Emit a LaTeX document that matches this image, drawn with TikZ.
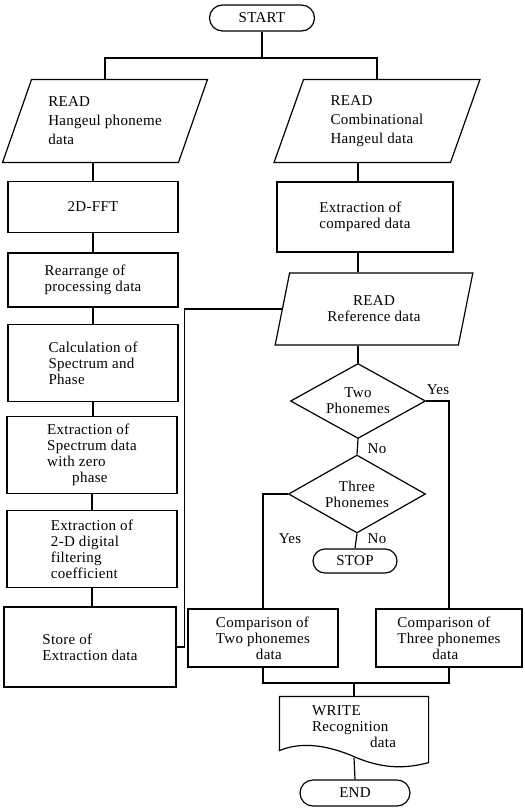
\documentclass[tikz,border=0pt]{standalone}
\usepackage{fontspec}
\setmainfont[LetterSpace=2]{Liberation Serif}
\usetikzlibrary{shapes.geometric}
\usetikzlibrary{shapes.misc}
\begin{document}
\begin{tikzpicture}[x=1pt,y=-1pt,line width=1.2pt,
  font=\fontsize{15}{16}\selectfont,
  proc/.style={draw,rectangle,align=left,inner sep=0pt},
  io/.style={draw,trapezium,trapezium stretches=true,align=left,inner sep=0pt},
  term/.style={draw,rounded rectangle,inner sep=0pt},
  decide/.style={draw,diamond,aspect=1.8,align=center,inner sep=0pt},
  lbl/.style={inner sep=1pt}]
\useasboundingbox (0,0) rectangle (525,809);
\node[term,minimum width=105,minimum height=26] (start) at (262,18) {START};
% left branch
\node[io,trapezium left angle=65,trapezium right angle=115,minimum width=205,minimum height=83]
  (rdhan) at (105,121) {READ\\[3pt]Hangeul phoneme\\[3pt]data};
\node[proc,align=center,minimum width=170,minimum height=51] (fft) at (93,207) {2D-FFT};
\node[proc,minimum width=170,minimum height=54] (rearr) at (93,280) {Rearrange of\\processing data};
\node[proc,minimum width=170,minimum height=77] (calc) at (93,363) {Calculation of\\Spectrum and\\Phase};
\node[proc,minimum width=170,minimum height=77] (extr) at (92,455) {Extraction of\\Spectrum data\\with zero\\\hspace*{25pt}phase};
\node[proc,minimum width=170,minimum height=77] (filt) at (92,549) {Extraction of\\2-D digital\\filtering\\coefficient};
\node[proc,minimum width=172,minimum height=80] (store) at (90,647) {Store of\\Extraction data};
% right branch
\node[io,trapezium left angle=70,trapezium right angle=110,minimum width=206,minimum height=83]
  (rdcomb) at (377,121) {READ\\[3pt]Combinational\\[3pt]Hangeul data};
\node[proc,minimum width=176,minimum height=70] (cmp) at (365,217) {Extraction of\\compared data};
\node[io,align=center,trapezium left angle=73,trapezium right angle=107,minimum width=198,minimum height=72]
  (ref) at (374,309) {READ\\Reference data};
\node[decide,minimum width=135,minimum height=75] (two) at (358,401) {Two\\Phonemes};
\node[decide,minimum width=137,minimum height=78] (three) at (357,494) {Three\\Phonemes};
\node[term,minimum width=84,minimum height=24] (stop) at (355,561) {STOP};
\node[proc,minimum width=150,minimum height=58] (cmp2) at (263,638) {Comparison of\\Two phonemes\\\hspace*{40pt}data};
\node[proc,minimum width=146,minimum height=58] (cmp3) at (449,638) {Comparison of\\Three phonemes\\\hspace*{35pt}data};
\node[align=left,inner sep=0pt,minimum width=148,minimum height=60] (write) at (354,727)
  {WRITE\\Recognition\\\hspace*{58pt}data};
\draw (write.north west) -- (write.north east) -- ([yshift=-5pt]write.south east)
  .. controls (408,768) and (385,770) .. (355,757)
  .. controls (325,744) and (300,742) .. ([yshift=7pt]write.south west) -- cycle;
\node[term,minimum width=110,minimum height=26] (end) at (355,793) {END};
% labels
\node[lbl] (yes1) at (438,390) {Yes};
\node[lbl] (no1) at (377,449) {No};
\node[lbl] (yes2) at (290,539) {Yes};
\node[lbl] (no2) at (377,539) {No};
% connectors
\coordinate (split) at (262,58);
\draw (start.south) -- (split);
\draw (rdhan.north) |- (split) -| (rdcomb.north);
\draw (rdhan.south -| fft) -- (fft.north);
\foreach \a/\b in {fft/rearr,rearr/calc,calc/extr,extr/filt,filt/store}
  {\draw (\a.south) -- (\a.south |- \b.north);}
\draw (store.east) -- ++(8,0) |- (ref.west);
\draw (rdcomb.south -| two) -- (cmp.north -| two);
\draw (cmp.south -| two) -- (ref.north -| two);
\draw (ref.south -| two) -- (two.north);
\draw (two.south) -- (three.north);
\draw (two.east) -| (cmp3.north);
\draw (three.west) -| (cmp2.north);
\draw (three.south) -- (stop.north);
\coordinate (join) at (354,683);
\draw (cmp2.south) |- (join) -| (cmp3.south);
\draw (join) -- (write.north);
\draw (write.south) -- (end.north);
\end{tikzpicture}
\end{document}
